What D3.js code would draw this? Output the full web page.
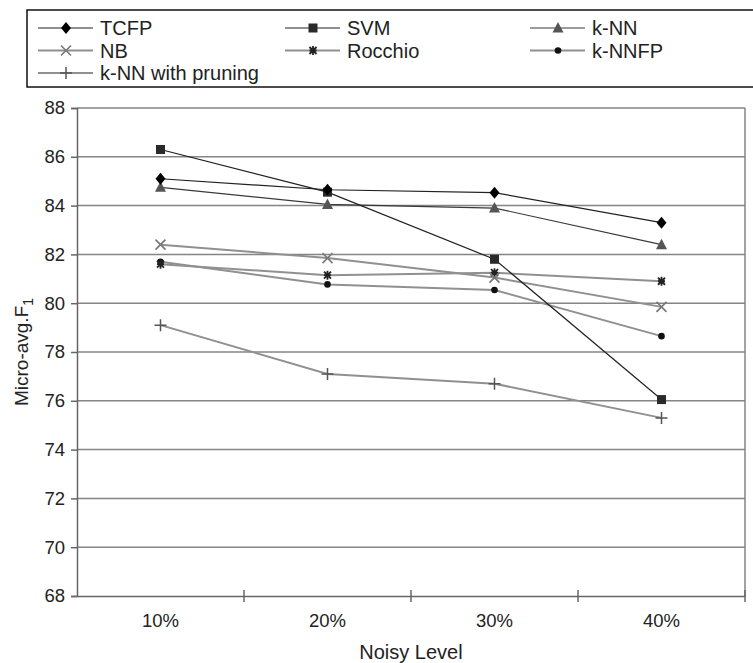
<!DOCTYPE html>
<html>
<head>
<meta charset="utf-8">
<script src="https://cdn.jsdelivr.net/npm/d3@7"></script>
<style>
    body { margin: 0; background: #fff; }
    text { font-family: 'Liberation Sans', Arial, sans-serif; fill: #222; }
</style>
</head>
<body>
<div id="chartContainer"></div>
<script>
const categories = ['10%', '20%', '30%', '40%'];
const yTicks = [68, 70, 72, 74, 76, 78, 80, 82, 84, 86, 88];

const tcfp = [85.1, 84.65, 84.53, 83.3];
const svm = [86.3, 84.55, 81.8, 76.05];
const knn = [84.75, 84.05, 83.9, 82.4];
const nb = [82.4, 81.85, 81.05, 79.85];
const rocchio = [81.6, 81.15, 81.25, 80.9];
const knnfp = [81.7, 80.77, 80.54, 78.65];
const pruning = [79.1, 77.1, 76.7, 75.3];

const seriesNames = ['TCFP', 'SVM', 'k-NN', 'NB', 'Rocchio', 'k-NNFP', 'k-NN with pruning'];
const seriesValues = [tcfp, svm, knn, nb, rocchio, knnfp, pruning];

// per-series look: line colour/width and marker type
const styles = {
    'TCFP': { stroke: '#222', width: 1.2, marker: 'diamond', fill: '#000' },
    'SVM': { stroke: '#222', width: 1.2, marker: 'square', fill: '#2a2a2a' },
    'k-NN': { stroke: '#3a3a3a', width: 1.2, marker: 'triangle', fill: '#555' },
    'NB': { stroke: '#909090', width: 2, marker: 'x', fill: '#777' },
    'Rocchio': { stroke: '#909090', width: 2, marker: 'star', fill: '#222' },
    'k-NNFP': { stroke: '#909090', width: 2, marker: 'circle', fill: '#111' },
    'k-NN with pruning': { stroke: '#909090', width: 2, marker: 'plus', fill: '#555' },
};

const svgWidth = 753;
const svgHeight = 663;
const plot = { left: 77, right: 745, top: 108, bottom: 596 };

const svg = d3.select('#chartContainer').append('svg').attr('width', svgWidth).attr('height', svgHeight);

const xScale = d3.scaleBand().domain(categories).range([plot.left, plot.right]);
const yScale = d3.scaleLinear().domain([68, 88]).range([plot.bottom, plot.top]);

// gridlines
svg.append('g')
    .selectAll('line')
    .data(yTicks.slice(1))
    .enter()
    .append('line')
    .attr('x1', plot.left)
    .attr('x2', plot.right)
    .attr('y1', (d) => yScale(d))
    .attr('y2', (d) => yScale(d))
    .attr('stroke', '#858585')
    .attr('stroke-width', 1.5);

// right border
svg.append('line')
    .attr('x1', plot.right).attr('x2', plot.right)
    .attr('y1', plot.top).attr('y2', plot.bottom)
    .attr('stroke', '#858585').attr('stroke-width', 1.5);

const yAxis = d3.axisLeft(yScale).tickValues(yTicks).tickSize(6).tickPadding(6).tickFormat(d3.format('d'));
const yG = svg.append('g').attr('transform', `translate(${plot.left},0)`).call(yAxis);
yG.select('.domain').attr('stroke', '#666').attr('stroke-width', 1.5);
yG.selectAll('.tick line').attr('stroke', '#666').attr('stroke-width', 1.5);
yG.selectAll('.tick text').style('font-size', '18.5px').attr('fill', '#222');

const xAxis = d3.axisBottom(xScale).tickSize(0).tickPadding(18);
const xG = svg.append('g').attr('transform', `translate(0,${plot.bottom})`).call(xAxis);
xG.select('.domain').attr('stroke', '#666').attr('stroke-width', 1.5);
xG.selectAll('.tick text').style('font-size', '18.5px').attr('fill', '#222');

// crossing tick marks between categories
svg.append('g')
    .selectAll('line')
    .data(categories.slice(1).concat(['end']))
    .enter()
    .append('line')
    .attr('x1', (d) => (d === 'end' ? plot.right : xScale(d)))
    .attr('x2', (d) => (d === 'end' ? plot.right : xScale(d)))
    .attr('y1', plot.bottom - 6)
    .attr('y2', plot.bottom + 6)
    .attr('stroke', '#666')
    .attr('stroke-width', 1.5);

function drawMarker(g, type, fill) {
    if (type === 'diamond') {
        g.append('path').attr('d', 'M0,-6L5,0L0,6L-5,0Z').attr('fill', fill);
    } else if (type === 'square') {
        g.append('rect').attr('x', -4.5).attr('y', -4.5).attr('width', 9).attr('height', 9).attr('fill', fill);
    } else if (type === 'triangle') {
        g.append('path').attr('d', 'M0,-6L5.5,4.5L-5.5,4.5Z').attr('fill', fill);
    } else if (type === 'x') {
        g.append('path').attr('d', 'M-5,-5L5,5M-5,5L5,-5').attr('stroke', fill).attr('stroke-width', 1.6);
    } else if (type === 'star') {
        g.append('path').attr('d', 'M-3.5,-3.5L3.5,3.5M-3.5,3.5L3.5,-3.5M0,-4.5L0,4.5M-3.5,0L3.5,0')
            .attr('stroke', fill).attr('stroke-width', 1.8);
    } else if (type === 'circle') {
        g.append('circle').attr('r', 3.3).attr('fill', fill);
    } else if (type === 'plus') {
        g.append('path').attr('d', 'M-6,0L6,0M0,-6L0,6').attr('stroke', fill).attr('stroke-width', 1.5);
    }
}

const line = d3.line()
    .x((d, i) => xScale(categories[i]) + xScale.bandwidth() / 2)
    .y((d) => yScale(d));

// draw grey series first so black ones sit on top
const order = [6, 5, 4, 3, 2, 1, 0];
order.forEach((k) => {
    const st = styles[seriesNames[k]];
    svg.append('path')
        .datum(seriesValues[k])
        .attr('d', line)
        .attr('fill', 'none')
        .attr('stroke', st.stroke)
        .attr('stroke-width', st.width);
});
order.forEach((k) => {
    const st = styles[seriesNames[k]];
    seriesValues[k].forEach((v, i) => {
        const g = svg.append('g')
            .attr('transform', `translate(${xScale(categories[i]) + xScale.bandwidth() / 2},${yScale(v)})`);
        drawMarker(g, st.marker, st.fill);
    });
});

// legend
svg.append('rect')
    .attr('x', 27).attr('y', 10)
    .attr('width', 740).attr('height', 77)
    .attr('fill', 'none').attr('stroke', '#111').attr('stroke-width', 1.5);

const legendCols = [38, 285, 530];
const legendRows = [28, 50.5, 73];
seriesNames.forEach((name, i) => {
    const st = styles[name];
    const lx = legendCols[i % 3];
    const ly = legendRows[Math.floor(i / 3)];
    const g = svg.append('g').attr('transform', `translate(${lx},${ly})`);
    g.append('line').attr('x1', 0).attr('x2', 55).attr('y1', 0).attr('y2', 0)
        .attr('stroke', st.stroke).attr('stroke-width', st.width);
    const m = g.append('g').attr('transform', 'translate(28,0)');
    drawMarker(m, st.marker, st.fill);
    g.append('text').attr('x', 62).attr('y', 7).style('font-size', '20px').text(name);
});

// axis titles
svg.append('text')
    .attr('x', (plot.left + plot.right) / 2)
    .attr('y', 659)
    .attr('text-anchor', 'middle')
    .style('font-size', '20px')
    .text('Noisy Level');

const yTitle = svg.append('text')
    .attr('transform', `translate(28,${(plot.top + plot.bottom) / 2}) rotate(-90)`)
    .attr('text-anchor', 'middle')
    .style('font-size', '19px');
yTitle.append('tspan').text('Micro-avg.F');
yTitle.append('tspan').attr('dy', 5).style('font-size', '14px').text('1');
</script>
</body>
</html>
